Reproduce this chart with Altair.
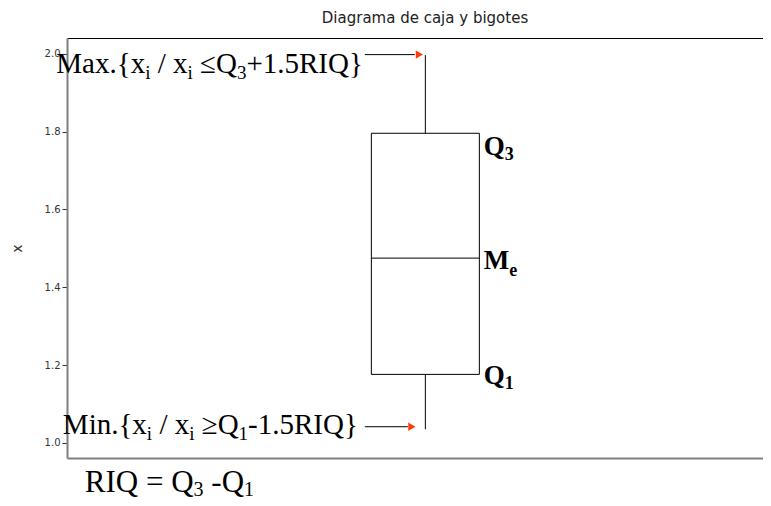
import altair as alt
import pandas as pd

# ---------------- data ----------------
title_text = "Diagrama de caja y bigotes"
y_title = "x"
stat_names = ["lower", "q1", "median", "q3", "upper"]
stat_values = [1.035, 1.176, 1.475, 1.796, 1.997]
box_position = [0.0]
y_ticks = [1.0, 1.2, 1.4, 1.6, 1.8, 2.0]
y_domain = [0.961, 2.041]
x_domain = [-1.0, 0.9414]

max_label = [("Max.{x", 0), ("i", 1), (" / x", 0), ("i", 1), (" \u2264Q", 0), ("3", 1), ("+1.5RIQ}", 0)]
min_label = [("Min.{x", 0), ("i", 1), (" / x", 0), ("i", 1), (" \u2265Q", 0), ("1", 1), ("-1.5RIQ}", 0)]
q3_label = [("Q", 0), ("3", 1)]
me_label = [("M", 0), ("e", 1)]
q1_label = [("Q", 0), ("1", 1)]
riq_label = [("RIQ = Q", 0), ("3", 1), (" -Q", 0), ("1", 1)]

stats = pd.DataFrame([dict(pos=box_position[0], **dict(zip(stat_names, stat_values)))])

# ---------------- layout helpers ----------------
W, H = 696, 420
SERIF = "Liberation Serif"
SANS = "DejaVu Sans"

# Times / Liberation Serif advance widths (1/1000 em)
REG = {" ": 250, "M": 889, "a": 444, "x": 500, ".": 250, "{": 480, "}": 480, "i": 278,
       "/": 278, "\u2264": 549, "\u2265": 549, "Q": 722, "3": 500, "1": 500, "+": 564,
       "-": 333, "5": 500, "R": 667, "I": 333, "=": 564, "n": 500, "e": 444}
BOLD = dict(REG, Q=778, M=944)


def text_width(s, size, bold=False):
    tbl = BOLD if bold else REG
    return sum(tbl.get(c, 500) for c in s) * size / 1000.0


X_SCALE = alt.Scale(domain=x_domain, nice=False, zero=False)
Y_SCALE = alt.Scale(domain=y_domain, nice=False, zero=False)

yaxis = alt.Axis(values=y_ticks, format=".1f", grid=False, title=y_title,
                 labelFont=SANS, labelFontSize=10, labelColor="#333333",
                 tickColor="#333333", tickSize=5, labelPadding=2,
                 domainColor="#808080", domainWidth=2,
                 titleFont=SANS, titleFontSize=14, titleFontWeight="normal",
                 titleColor="#333333", titleX=-50, titleBaseline="middle")
bottom_axis = alt.Axis(orient="bottom", labels=False, ticks=False, title=None, grid=False,
                       domainColor="#808080", domainWidth=2)
top_axis = alt.Axis(orient="top", labels=False, ticks=False, title=None, grid=False,
                    domainColor="black", domainWidth=1)

base = alt.Chart(stats)


def X(axis=None):
    return alt.X("pos:Q", scale=X_SCALE, axis=axis)


def Y(field):
    return alt.Y(f"{field}:Q", scale=Y_SCALE, axis=yaxis)


layers = []

# box
layers.append(base.mark_bar(size=108, fill="white", stroke="black", strokeWidth=1)
              .encode(x=X(bottom_axis), y=Y("q1"), y2="q3:Q"))
# median
layers.append(base.mark_rule(color="black", strokeWidth=1, xOffset=-54, x2Offset=54)
              .encode(x=X(), x2="pos:Q", y=Y("median")))
# whiskers
layers.append(base.mark_rule(color="black", strokeWidth=1)
              .encode(x=X(top_axis), y=Y("q3"), y2="upper:Q"))
layers.append(base.mark_rule(color="black", strokeWidth=1)
              .encode(x=X(), y=Y("lower"), y2="q1:Q"))

# arrows
ARROW_RED = "#ff3c0a"
layers.append(base.mark_rule(color="black", strokeWidth=1, xOffset=-60.5, x2Offset=-10.5, yOffset=-0.5)
              .encode(x=X(), x2="pos:Q", y=Y("upper")))
layers.append(base.mark_point(shape="triangle-right", filled=True, color=ARROW_RED, opacity=1,
                              size=70, xOffset=-6, yOffset=-0.5)
              .encode(x=X(), y=Y("upper")))
layers.append(base.mark_rule(color="black", strokeWidth=1, xOffset=-60.5, x2Offset=-17.5, yOffset=-2.5)
              .encode(x=X(), x2="pos:Q", y=Y("lower")))
layers.append(base.mark_point(shape="triangle-right", filled=True, color=ARROW_RED, opacity=1,
                              size=70, xOffset=-13.5, yOffset=-2.5)
              .encode(x=X(), y=Y("lower")))


def text_layers(pieces, field, dx0, dy, size, sub_size, drop, bold=False, right=None):
    total = sum(text_width(t, sub_size if s else size, bold) for t, s in pieces)
    if right is not None:
        dx0 = right - total
    out = []
    cur = dx0
    for t, s in pieces:
        fs = sub_size if s else size
        lead = len(t) - len(t.lstrip(" "))
        cur += lead * text_width(" ", fs, bold)
        body = t.lstrip(" ")
        shown = body.rstrip(" ")
        out.append(base.mark_text(text=shown, align="left", baseline="alphabetic",
                                  dx=cur, dy=dy + (drop if s else 0), font=SERIF,
                                  fontSize=fs, fontWeight="bold" if bold else "normal",
                                  color="black")
                   .encode(x=X(), y=Y(field)))
        cur += text_width(body, fs, bold)
    return out


layers += text_layers(max_label, "upper", 0, 18, 29, 19, 6, right=-62.5)
layers += text_layers(min_label, "lower", 0, 5, 29, 19, 6, right=-67.5)
layers += text_layers(q3_label, "q3", 58.5, 22, 27, 18, 5, bold=True)
layers += text_layers(me_label, "median", 58.5, 11, 27, 18, 7, bold=True)
layers += text_layers(q1_label, "q1", 58.5, 10, 27, 18, 5, bold=True)
layers += text_layers(riq_label, "lower", -340.5, 63, 31, 20, 4)

chart = (alt.layer(*layers)
         .properties(width=W, height=H,
                     title=alt.TitleParams(title_text, font=SANS, fontSize=15, fontWeight="normal",
                                           color="#222222", anchor="middle", dx=10, offset=12),
                     autosize=alt.AutoSizeParams(type="none"),
                     padding={"left": 59, "top": 30, "right": 0, "bottom": 40},
                     view=alt.ViewBackground(strokeWidth=0, strokeOpacity=0))
         .resolve_axis(x="independent")
         .configure_view(strokeWidth=0, strokeOpacity=0))

chart.save("out.html", embed_options={"renderer": "svg", "actions": False})
